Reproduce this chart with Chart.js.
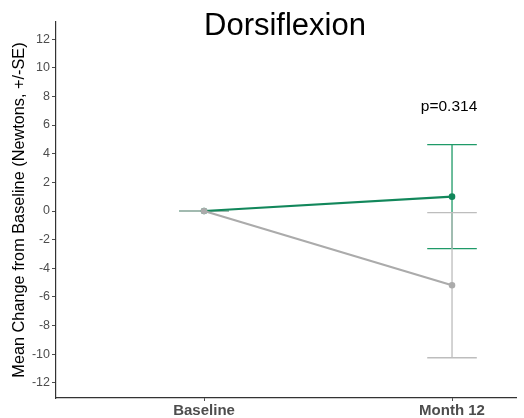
<!DOCTYPE html>
<html>
<head>
<meta charset="utf-8">
<script src="https://cdn.jsdelivr.net/npm/chart.js@4/dist/chart.umd.min.js"></script>
<style>
  html, body { margin: 0; padding: 0; background: #fff; }
  canvas { display: block; }
</style>
</head>
<body>
<canvas id="chart" width="524" height="418"></canvas>
<script>
// Visits along the x axis
const categories = ['Baseline', 'Month 12'];

// Mean change from baseline and standard error, per group and visit
const groupAMean = [0, 1.0];
const groupASE   = [0, 3.63];
const groupBMean = [0, -5.18];
const groupBSE   = [0, 5.06];

// Axis ticks
const yTicks = [-12, -10, -8, -6, -4, -2, 0, 2, 4, 6, 8, 10, 12];

const chartTitle = 'Dorsiflexion';
const yAxisTitle = 'Mean Change from Baseline (Newtons, +/-SE)';
const pLabel = 'p=0.314';
const pLabelY = 7.3;

const FONT = "'Liberation Sans', Arial, Helvetica, sans-serif";
const GREEN = '#12875b';
const GREEN_BAR = '#1f9a68';
const GRAY = '#ababab';
const GRAY_BAR = '#bdbdbd';
const CAP_HALF = 0.1; // half width of the error bar caps, in x units

const toPoints = means => means.map((m, i) => ({ x: i + 1, y: m }));

const series = [
  { mean: groupAMean, se: groupASE, color: GREEN_BAR },
  { mean: groupBMean, se: groupBSE, color: GRAY_BAR }
];

// Error bars with caps, drawn under the lines
const errorBars = {
  id: 'errorBars',
  beforeDatasetsDraw(chart) {
    const { ctx, scales: { x, y } } = chart;
    ctx.save();
    ctx.lineWidth = 1.3;
    series.forEach(s => {
      ctx.strokeStyle = s.color;
      s.mean.forEach((m, i) => {
        const xv = i + 1;
        const hi = m + s.se[i], lo = m - s.se[i];
        const px = x.getPixelForValue(xv);
        const pl = x.getPixelForValue(xv - CAP_HALF);
        const pr = x.getPixelForValue(xv + CAP_HALF);
        const yh = y.getPixelForValue(hi), yl = y.getPixelForValue(lo);
        ctx.beginPath();
        ctx.moveTo(px, yh); ctx.lineTo(px, yl);
        ctx.moveTo(pl, yh); ctx.lineTo(pr, yh);
        ctx.moveTo(pl, yl); ctx.lineTo(pr, yl);
        ctx.stroke();
      });
    });
    ctx.restore();
  }
};

// Chart title and p-value annotation
const annotations = {
  id: 'annotations',
  afterDraw(chart) {
    const { ctx, chartArea, scales: { x, y } } = chart;
    ctx.save();
    ctx.fillStyle = '#000';
    ctx.textAlign = 'center';
    ctx.textBaseline = 'alphabetic';
    ctx.font = '31px ' + FONT;
    ctx.fillText(chartTitle, (chartArea.left + chartArea.right) / 2 - 1, 35);
    ctx.font = '15.5px ' + FONT;
    ctx.textBaseline = 'middle';
    ctx.fillText(pLabel, x.getPixelForValue(categories.length) - 3, y.getPixelForValue(pLabelY));
    ctx.restore();
  }
};

new Chart(document.getElementById('chart'), {
  type: 'line',
  data: {
    datasets: [
      {
        label: 'Group A',
        data: toPoints(groupAMean),
        borderColor: GREEN,
        backgroundColor: GREEN,
        borderWidth: 2.2,
        pointRadius: 2.2,
        pointHoverRadius: 2.2,
        order: 1
      },
      {
        label: 'Group B',
        data: toPoints(groupBMean),
        borderColor: GRAY,
        backgroundColor: GRAY,
        borderWidth: 2.2,
        pointRadius: 2.2,
        pointHoverRadius: 2.2,
        order: 0
      }
    ]
  },
  options: {
    responsive: false,
    animation: false,
    devicePixelRatio: 1,
    layout: { padding: { top: 22, right: 8, left: 0, bottom: 0 } },
    plugins: { legend: { display: false }, tooltip: { enabled: false } },
    scales: {
      x: {
        type: 'linear',
        min: 0.403,
        max: 2.258,
        afterFit: s => { s.height = 20; },
        afterBuildTicks: s => { s.ticks = categories.map((c, i) => ({ value: i + 1 })); },
        ticks: {
          callback: v => categories[Math.round(v) - 1],
          color: '#4d4d4d',
          font: { family: FONT, size: 15, weight: 'bold' },
          padding: 1,
          maxRotation: 0,
          autoSkip: false
        },
        grid: { display: true, drawOnChartArea: false, drawTicks: true, tickLength: 3, color: '#4d4d4d' },
        border: { display: true, color: '#333', width: 1.2 }
      },
      y: {
        type: 'linear',
        min: -13.05,
        max: 13.19,
        afterFit: s => { s.width = 56; },
        afterBuildTicks: s => { s.ticks = yTicks.map(v => ({ value: v })); },
        ticks: {
          color: '#4d4d4d',
          font: { family: FONT, size: 12.5 },
          padding: 2,
          autoSkip: false
        },
        grid: { display: true, drawOnChartArea: false, drawTicks: true, tickLength: 4, color: '#4d4d4d' },
        border: { display: true, color: '#333', width: 1.2 },
        title: {
          display: true,
          text: yAxisTitle,
          color: '#000',
          font: { family: FONT, size: 16.3 },
          padding: { top: 10, bottom: 0 }
        }
      }
    }
  },
  plugins: [errorBars, annotations]
});
</script>
</body>
</html>
